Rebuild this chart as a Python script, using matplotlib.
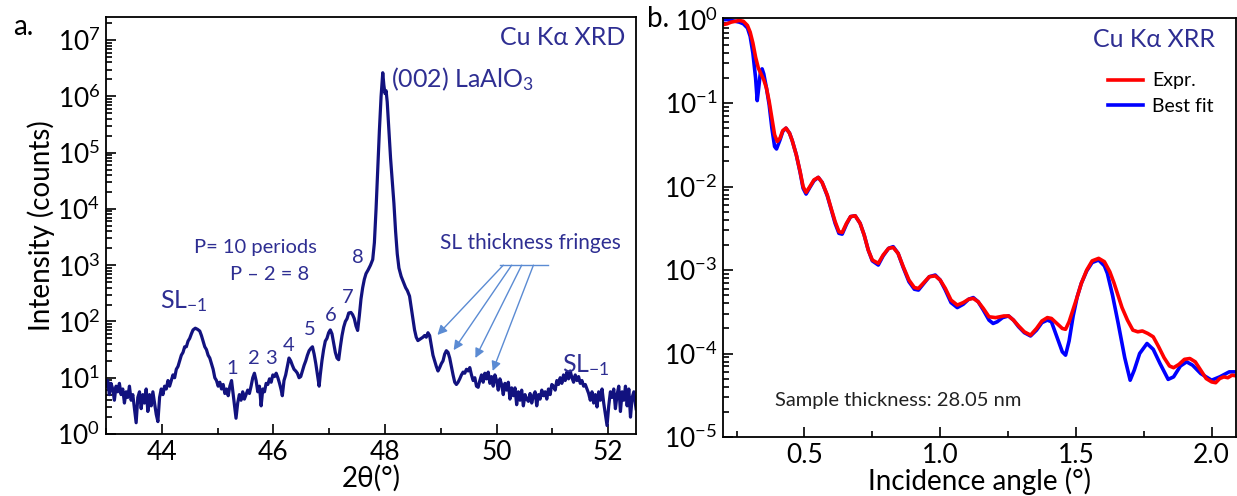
import numpy as np
import matplotlib
matplotlib.use('Agg')
import matplotlib.pyplot as plt
from matplotlib.ticker import LogLocator, MultipleLocator, NullFormatter, FormatStrFormatter

plt.rcParams['font.family'] = ['Lato', 'DejaVu Sans']
plt.rcParams['mathtext.default'] = 'regular'

LINE = '#12127f'
TXT = '#2e2e92'
ARROW = '#5b8bd3'

# ---- panel a: XRD (2theta, log10 counts) ----
xrd_2theta = [
    43.00, 43.03, 43.06, 43.09, 43.12, 43.15, 43.18, 43.21, 43.24, 43.27,
    43.30, 43.33, 43.36, 43.39, 43.42, 43.45, 43.48, 43.51, 43.54, 43.57,
    43.60, 43.63, 43.66, 43.69, 43.72, 43.75, 43.78, 43.81, 43.84, 43.87,
    43.90, 43.93, 43.96, 43.99, 44.02, 44.05, 44.08, 44.11, 44.14, 44.17,
    44.20, 44.23, 44.26, 44.29, 44.32, 44.35, 44.38, 44.41, 44.44, 44.47,
    44.50, 44.53, 44.56, 44.60, 44.64, 44.68, 44.71, 44.74, 44.77, 44.80,
    44.83, 44.86, 44.89, 44.92, 44.95, 44.98, 45.01, 45.04, 45.07, 45.10,
    45.13, 45.16, 45.19, 45.22, 45.25, 45.28, 45.31, 45.33, 45.36, 45.39,
    45.42, 45.45, 45.48, 45.51, 45.54, 45.57, 45.60, 45.63, 45.66, 45.69,
    45.72, 45.75, 45.78, 45.81, 45.84, 45.87, 45.90, 45.93, 45.96, 45.99,
    46.02, 46.05, 46.08, 46.11, 46.14, 46.16, 46.19, 46.22, 46.25, 46.28,
    46.31, 46.34, 46.37, 46.40, 46.43, 46.46, 46.49, 46.52, 46.55, 46.58,
    46.61, 46.64, 46.67, 46.70, 46.73, 46.76, 46.79, 46.82, 46.84, 46.87,
    46.90, 46.93, 46.96, 46.99, 47.02, 47.05, 47.08, 47.11, 47.14, 47.17,
    47.20, 47.23, 47.26, 47.29, 47.32, 47.35, 47.39, 47.42, 47.45, 47.48,
    47.51, 47.54, 47.57, 47.60, 47.63, 47.66, 47.70, 47.74, 47.78, 47.81,
    47.84, 47.87, 47.90, 47.93, 47.96, 47.98, 48.00, 48.02, 48.04, 48.07,
    48.10, 48.13, 48.16, 48.19, 48.22, 48.25, 48.29, 48.33, 48.37, 48.40,
    48.44, 48.47, 48.50, 48.53, 48.56, 48.59, 48.62, 48.65, 48.68, 48.71,
    48.74, 48.77, 48.80, 48.83, 48.86, 48.89, 48.92, 48.95, 48.98, 49.01,
    49.04, 49.07, 49.10, 49.13, 49.16, 49.19, 49.22, 49.25, 49.28, 49.31,
    49.34, 49.37, 49.40, 49.43, 49.46, 49.49, 49.52, 49.55, 49.58, 49.61,
    49.64, 49.67, 49.70, 49.73, 49.76, 49.79, 49.82, 49.85, 49.88, 49.91,
    49.94, 49.97, 50.00, 50.03, 50.06, 50.09, 50.12, 50.15, 50.18, 50.21,
    50.24, 50.27, 50.30, 50.33, 50.36, 50.39, 50.42, 50.45, 50.48, 50.51,
    50.54, 50.57, 50.60, 50.63, 50.66, 50.69, 50.72, 50.75, 50.78, 50.81,
    50.84, 50.87, 50.90, 50.93, 50.96, 50.99, 51.02, 51.05, 51.08, 51.11,
    51.14, 51.17, 51.20, 51.23, 51.26, 51.29, 51.32, 51.35, 51.38, 51.41,
    51.44, 51.47, 51.50, 51.53, 51.56, 51.59, 51.62, 51.65, 51.68, 51.71,
    51.74, 51.77, 51.80, 51.83, 51.86, 51.89, 51.92, 51.95, 51.98, 52.01,
    52.04, 52.07, 52.10, 52.13, 52.16, 52.19, 52.22, 52.25, 52.28, 52.31,
    52.34, 52.37, 52.40, 52.43, 52.46, 52.50]
xrd_logI = [
    0.85, 0.95, 0.70, 0.90, 0.80, 0.60, 0.85, 0.75, 0.90, 0.70,
    0.80, 0.55, 0.75, 0.65, 0.85, 0.60, 0.70, 0.45, 0.20, 0.65,
    0.75, 0.45, 0.70, 0.55, 0.80, 0.40, 0.70, 0.50, 0.75, 0.55,
    0.35, 0.22, 0.65, 0.80, 0.70, 0.85, 0.80, 0.95, 0.85, 0.95,
    1.05, 1.00, 1.15, 1.20, 1.30, 1.40, 1.45, 1.55, 1.55, 1.65,
    1.70, 1.78, 1.85, 1.88, 1.86, 1.83, 1.75, 1.65, 1.55, 1.50,
    1.40, 1.35, 1.25, 1.15, 1.00, 0.95, 0.85, 0.92, 0.80, 0.88,
    0.72, 0.80, 0.68, 0.85, 0.95, 0.70, 0.45, 0.28, 0.55, 0.70,
    0.60, 0.75, 0.62, 0.70, 0.78, 0.72, 0.85, 1.00, 1.08, 0.95,
    0.75, 0.85, 0.50, 0.80, 0.75, 0.90, 0.88, 0.98, 0.92, 1.05,
    1.02, 1.08, 1.00, 0.90, 0.78, 0.68, 0.95, 1.05, 1.20, 1.35,
    1.30, 1.22, 1.15, 1.12, 1.08, 1.00, 1.02, 1.12, 1.22, 1.30,
    1.40, 1.48, 1.52, 1.55, 1.42, 1.25, 1.05, 0.85, 1.05, 1.30,
    1.50, 1.65, 1.70, 1.80, 1.85, 1.78, 1.62, 1.45, 1.35, 1.32,
    1.55, 1.75, 1.90, 2.00, 2.05, 2.15, 2.16, 2.12, 2.05, 1.92,
    1.84, 2.10, 2.40, 2.60, 2.75, 2.85, 2.92, 3.00, 3.10, 3.40,
    4.00, 4.70, 5.40, 6.00, 6.42, 6.20, 6.05, 6.10, 5.90, 5.40,
    4.90, 4.50, 4.10, 3.60, 3.20, 2.95, 2.80, 2.70, 2.60, 2.55,
    2.45, 2.25, 2.05, 1.85, 1.72, 1.66, 1.68, 1.70, 1.72, 1.75,
    1.72, 1.80, 1.75, 1.58, 1.40, 1.30, 1.20, 1.12, 1.18, 1.25,
    1.30, 1.42, 1.48, 1.45, 1.35, 1.20, 1.05, 0.92, 0.88, 0.92,
    0.98, 1.05, 1.10, 1.08, 1.15, 1.12, 1.18, 1.05, 0.95, 1.00,
    0.85, 0.83, 0.95, 1.05, 0.92, 1.08, 0.98, 1.10, 0.90, 1.02,
    0.85, 1.05, 0.95, 0.78, 0.98, 0.88, 0.70, 0.90, 0.78, 0.92,
    0.62, 0.82, 0.68, 0.82, 0.52, 0.75, 0.60, 0.78, 0.50, 0.70,
    0.62, 0.58, 0.72, 0.55, 0.68, 0.75, 0.50, 0.70, 0.62, 0.78,
    0.68, 0.75, 0.62, 0.80, 0.70, 0.88, 0.85, 0.78, 0.95, 0.88,
    1.00, 0.90, 1.05, 0.95, 1.10, 0.98, 1.12, 1.00, 0.92, 1.05,
    0.95, 1.02, 0.90, 0.95, 0.85, 0.88, 0.80, 0.72, 0.60, 0.75,
    0.55, 0.70, 0.48, 0.75, 0.60, 0.80, 0.55, 0.35, 0.15, 0.50,
    0.75, 0.65, 0.80, 0.45, 0.70, 0.85, 0.40, 0.75, 0.60, 0.85,
    0.50, 0.80, 0.30, 0.65, 0.75, 0.45]

fringe_labels = ['1', '2', '3', '4', '5', '6', '7', '8']
fringe_x = [45.26, 45.65, 45.96, 46.28, 46.66, 47.02, 47.34, 47.52]
fringe_logy = [1.17, 1.35, 1.35, 1.58, 1.85, 2.11, 2.42, 3.13]

arrow_start_x = [50.12, 50.27, 50.45, 50.66]
arrow_end_x = [48.94, 49.23, 49.62, 49.93]
arrow_end_logy = [1.76, 1.49, 1.35, 1.12]

# ---- panel b: XRR (angle, log10 reflectivity) ----
xrr_exp_angle = [
    0.200, 0.215, 0.230, 0.245, 0.260, 0.275, 0.290, 0.300, 0.310, 0.320,
    0.330, 0.340, 0.350, 0.360, 0.370, 0.380, 0.390, 0.400, 0.410, 0.420,
    0.432, 0.445, 0.455, 0.470, 0.484, 0.495, 0.506, 0.520, 0.535, 0.551,
    0.565, 0.584, 0.600, 0.613, 0.627, 0.639, 0.655, 0.670, 0.687, 0.705,
    0.720, 0.735, 0.750, 0.772, 0.790, 0.810, 0.827, 0.845, 0.864, 0.885,
    0.905, 0.920, 0.940, 0.960, 0.982, 1.000, 1.019, 1.040, 1.063, 1.085,
    1.105, 1.122, 1.140, 1.159, 1.180, 1.204, 1.220, 1.235, 1.252, 1.270,
    1.289, 1.310, 1.333, 1.355, 1.375, 1.395, 1.410, 1.430, 1.450, 1.462,
    1.475, 1.490, 1.505, 1.520, 1.540, 1.560, 1.584, 1.605, 1.625, 1.640,
    1.655, 1.670, 1.690, 1.710, 1.728, 1.745, 1.765, 1.785, 1.805, 1.825,
    1.845, 1.860, 1.880, 1.900, 1.920, 1.940, 1.960, 1.980, 2.000, 2.015,
    2.030, 2.045, 2.060, 2.075, 2.097]
xrr_exp_log = [
    -0.06, -0.05, -0.03, -0.02, -0.01, -0.02, -0.07, -0.15, -0.28, -0.45,
    -0.58, -0.65, -0.72, -0.82, -0.98, -1.18, -1.38, -1.46, -1.42, -1.33,
    -1.30, -1.36, -1.45, -1.62, -1.82, -2.00, -2.07, -2.00, -1.92, -1.89,
    -1.95, -2.10, -2.28, -2.42, -2.54, -2.55, -2.44, -2.36, -2.35, -2.44,
    -2.58, -2.76, -2.88, -2.92, -2.82, -2.74, -2.73, -2.80, -2.96, -3.12,
    -3.21, -3.22, -3.15, -3.08, -3.07, -3.12, -3.22, -3.36, -3.42, -3.39,
    -3.35, -3.34, -3.38, -3.46, -3.56, -3.57, -3.56, -3.55, -3.55, -3.60,
    -3.67, -3.74, -3.78, -3.70, -3.61, -3.57, -3.58, -3.64, -3.70, -3.71,
    -3.62, -3.47, -3.32, -3.16, -3.00, -2.89, -2.86, -2.90, -3.02, -3.15,
    -3.30, -3.45, -3.60, -3.72, -3.74, -3.73, -3.76, -3.80, -3.92, -4.05,
    -4.15, -4.17, -4.13, -4.07, -4.06, -4.10, -4.20, -4.30, -4.34, -4.35,
    -4.30, -4.28, -4.29, -4.26, -4.27]

xrr_fit_angle = [
    0.200, 0.215, 0.230, 0.245, 0.260, 0.275, 0.290, 0.300, 0.310, 0.320,
    0.326, 0.332, 0.338, 0.344, 0.350, 0.360, 0.370, 0.380, 0.390, 0.397,
    0.410, 0.420, 0.432, 0.445, 0.455, 0.470, 0.484, 0.495, 0.506, 0.520,
    0.535, 0.551, 0.565, 0.584, 0.600, 0.613, 0.627, 0.639, 0.655, 0.670,
    0.687, 0.705, 0.720, 0.735, 0.750, 0.772, 0.790, 0.810, 0.827, 0.845,
    0.864, 0.885, 0.905, 0.920, 0.940, 0.960, 0.982, 1.000, 1.019, 1.040,
    1.063, 1.085, 1.105, 1.122, 1.140, 1.159, 1.180, 1.195, 1.210, 1.230,
    1.252, 1.270, 1.289, 1.310, 1.333, 1.355, 1.375, 1.395, 1.410, 1.430,
    1.450, 1.462, 1.475, 1.490, 1.505, 1.520, 1.540, 1.560, 1.584, 1.605,
    1.616, 1.635, 1.656, 1.680, 1.700, 1.715, 1.735, 1.762, 1.785, 1.810,
    1.840, 1.860, 1.885, 1.908, 1.930, 1.960, 2.000, 2.030, 2.065, 2.097]
xrr_fit_log = [
    0.00, 0.00, -0.01, -0.02, -0.03, -0.05, -0.10, -0.20, -0.40, -0.70,
    -0.97, -0.80, -0.62, -0.59, -0.65, -0.82, -1.02, -1.30, -1.52, -1.55,
    -1.44, -1.34, -1.30, -1.36, -1.45, -1.62, -1.83, -2.02, -2.09, -2.01,
    -1.93, -1.89, -1.95, -2.11, -2.29, -2.44, -2.56, -2.57, -2.45, -2.36,
    -2.35, -2.44, -2.58, -2.76, -2.89, -2.94, -2.83, -2.74, -2.72, -2.80,
    -2.97, -3.14, -3.23, -3.24, -3.16, -3.08, -3.06, -3.12, -3.24, -3.39,
    -3.45, -3.41, -3.35, -3.33, -3.38, -3.48, -3.60, -3.64, -3.62, -3.57,
    -3.55, -3.60, -3.68, -3.75, -3.79, -3.72, -3.63, -3.60, -3.62, -3.80,
    -3.98, -4.02, -3.85, -3.55, -3.32, -3.16, -3.01, -2.91, -2.88, -2.95,
    -3.04, -3.30, -3.64, -4.05, -4.32, -4.20, -4.00, -3.88, -3.95, -4.12,
    -4.31, -4.28, -4.15, -4.10, -4.14, -4.24, -4.32, -4.28, -4.22, -4.22]

fig = plt.figure(figsize=(12.37, 4.96), dpi=100)
ax1 = fig.add_axes([0.0857, 0.125, 0.4285, 0.8407])
ax2 = fig.add_axes([0.5845, 0.119, 0.4147, 0.845])

# ---- panel a ----
ax1.plot(xrd_2theta, 10 ** np.array(xrd_logI), color=LINE, lw=2.3)
ax1.set_yscale('log')
ax1.set_xlim(43, 52.5)
ax1.set_ylim(1, 10 ** 7.41)
ax1.xaxis.set_major_locator(MultipleLocator(2))
ax1.xaxis.set_minor_locator(MultipleLocator(1))
ax1.yaxis.set_major_locator(LogLocator(base=10, numticks=12))
ax1.yaxis.set_minor_locator(LogLocator(base=10, subs=np.arange(2, 10), numticks=12))
ax1.yaxis.set_minor_formatter(NullFormatter())
ax1.set_xlabel('2θ(°)', fontsize=20, labelpad=0)
ax1.set_ylabel('Intensity (counts)', fontsize=20, labelpad=2)

ax1.text(0.98, 0.978, 'Cu Kα XRD', transform=ax1.transAxes, ha='right', va='top',
         color=TXT, fontsize=18)
ax1.text(48.1, 10 ** 6.3, '(002) LaAlO$_3$', color=TXT, fontsize=18, va='center')
ax1.text(45.67, 10 ** 3.32, 'P= 10 periods', color=TXT, fontsize=14.5, ha='center', va='center')
ax1.text(45.94, 10 ** 2.84, 'P – 2 = 8', color=TXT, fontsize=14.5, ha='center', va='center')
ax1.text(44.4, 10 ** 2.36, 'SL$_{-1}$', color=TXT, fontsize=18, ha='center', va='center')
ax1.text(51.6, 10 ** 1.22, 'SL$_{-1}$', color=TXT, fontsize=18, ha='center', va='center')
for lab, fx, fy in zip(fringe_labels, fringe_x, fringe_logy):
    ax1.text(fx, 10 ** fy, lab, color=TXT, fontsize=14.5, ha='center', va='center')

ax1.text(50.6, 10 ** 3.39, 'SL thickness fringes', color=TXT, fontsize=15,
         ha='center', va='center')
ax1.plot([50.06, 50.92], [10 ** 3.0, 10 ** 3.0], color=ARROW, lw=1)
for sx, ex, ey in zip(arrow_start_x, arrow_end_x, arrow_end_logy):
    ax1.annotate('', xy=(ex, 10 ** ey), xytext=(sx, 10 ** 3.0),
                 arrowprops=dict(arrowstyle='-|>', color=ARROW, lw=1,
                                 mutation_scale=14, shrinkA=0, shrinkB=0))

# ---- panel b ----
ax2.plot(xrr_fit_angle, 10 ** np.array(xrr_fit_log), color='#0000ff', lw=2.6, label='Best fit')
ax2.plot(xrr_exp_angle, 10 ** np.array(xrr_exp_log), color='#ff0000', lw=2.6, label='Expr.')
ax2.set_yscale('log')
ax2.set_xlim(0.2, 2.09)
ax2.set_ylim(1e-5, 1.05)
ax2.xaxis.set_major_locator(MultipleLocator(0.5))
ax2.xaxis.set_minor_locator(MultipleLocator(0.25))
ax2.xaxis.set_major_formatter(FormatStrFormatter('%.1f'))
ax2.yaxis.set_major_locator(LogLocator(base=10, numticks=12))
ax2.yaxis.set_minor_locator(LogLocator(base=10, subs=np.arange(2, 10), numticks=12))
ax2.yaxis.set_minor_formatter(NullFormatter())
ax2.set_xlabel('Incidence angle (°)', fontsize=20, labelpad=0)
ax2.text(0.96, 0.975, 'Cu Kα XRR', transform=ax2.transAxes, ha='right', va='top',
         color=TXT, fontsize=18)
ax2.text(0.101, 0.088, 'Sample thickness: 28.05 nm', transform=ax2.transAxes,
         fontsize=14.5, color='#222222', va='center')
handles, labels = ax2.get_legend_handles_labels()
ax2.legend(handles[::-1], labels[::-1], loc='upper left', bbox_to_anchor=(0.75, 0.87),
           frameon=False, fontsize=14, handlelength=1.8, handletextpad=0.5,
           labelspacing=0.45, borderpad=0, borderaxespad=0)

for ax in (ax1, ax2):
    ax.tick_params(which='both', direction='in', labelsize=19, width=1.2, pad=4)
    ax.tick_params(which='major', length=7)
    ax.tick_params(which='minor', length=4)
    for s in ax.spines.values():
        s.set_linewidth(1.3)

fig.text(0.011, 0.93, 'a.', fontsize=20)
fig.text(0.523, 0.945, 'b.', fontsize=20)

fig.savefig('out.png', dpi=100)
